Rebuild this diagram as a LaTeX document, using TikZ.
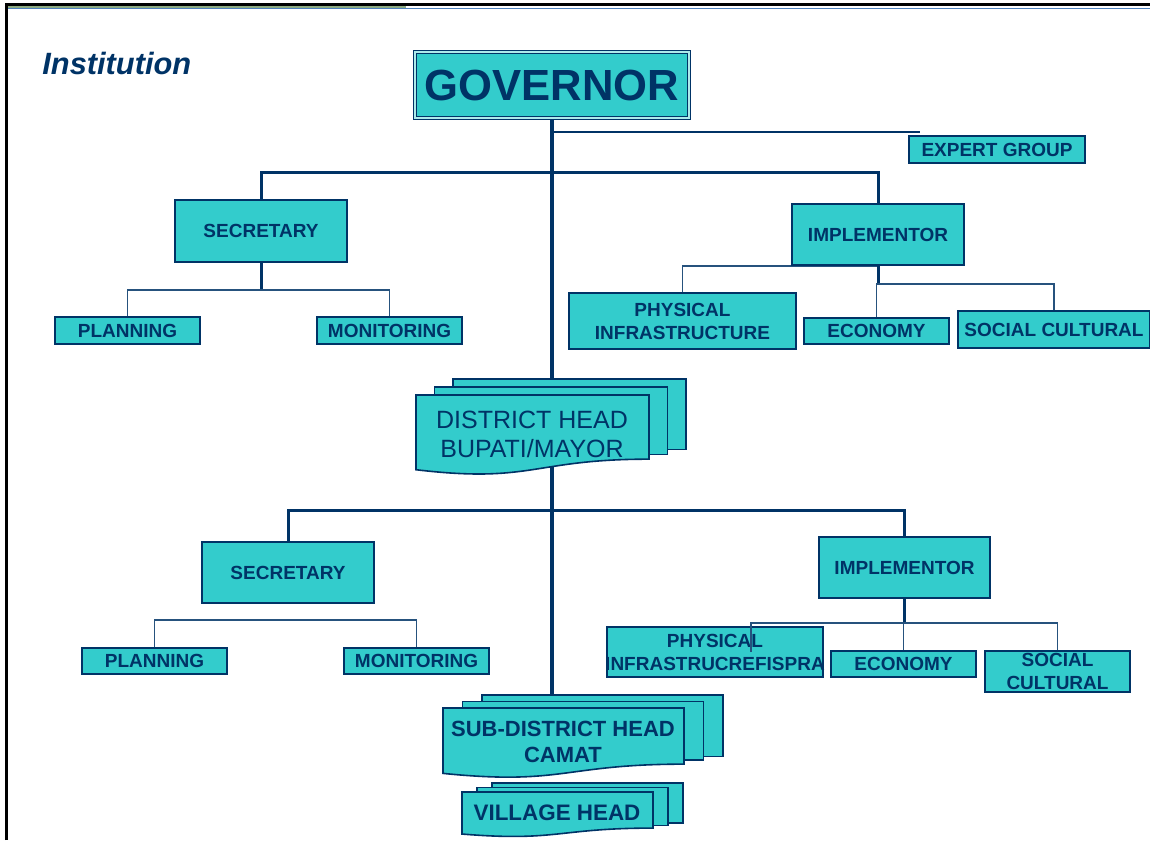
\documentclass[tikz,border=0pt]{standalone}
\usepackage{fontspec}
\setmainfont{Liberation Sans}
\usetikzlibrary{calc,positioning,backgrounds}

\definecolor{govblue}{RGB}{0,51,102}
\definecolor{boxcyan}{RGB}{51,204,204}
\definecolor{rulegreen}{RGB}{140,170,130}
\definecolor{ruleblue}{RGB}{79,129,189}

\tikzset{
	box/.style={draw=govblue, line width=0.8pt, fill=boxcyan, text=govblue, inner sep=0pt, align=center, font=\fontsize{9.5}{11.5}\selectfont\bfseries},
	page/.style={draw=govblue, line width=0.8pt, fill=boxcyan},
	pagetext/.style={text=govblue, inner sep=0pt, align=center},
	trunk/.style={govblue, line width=2pt},
	bar/.style={govblue, line width=1.5pt},
	twig/.style={govblue!85!white, line width=0.75pt},
}

% one sheet with a wavy bottom: x, y (top left), width, height
\newcommand{\docpage}[4]{%
	\filldraw[page] (#1,#2) -- ++(#3,0) -- ++(0,0.802*#4)
		.. controls +(-0.5*#3,0) and +(0.5*#3,0.174*#4) .. (#1,#2+0.934*#4) -- cycle;}
% three stacked sheets: x, y, width, height, dx, dy
\newcommand{\docstack}[6]{%
	\filldraw[page] (#1+2*#5,#2-2*#6) rectangle (#1+2*#5+#3,#2+0.802*#4-1.2*#6);
	\filldraw[page] (#1+#5,#2-#6) rectangle (#1+#5+#3,#2+0.802*#4-0.6*#6);
	\docpage{#1}{#2}{#3}{#4}}

\begin{document}
\begin{tikzpicture}[x=1pt,y=-1pt]
	\useasboundingbox (0,0) rectangle (575,420);
	% frame
	\draw[line width=1.5pt] (3,420) -- (3,2.5) -- (575,2.5);
	\draw[rulegreen, line width=0.9pt] (4,3.4) -- (203,3.4);
	\draw[ruleblue, line width=0.7pt] (4,4.4) -- (575,4.4);

	\node[anchor=base west, inner sep=0pt, text=govblue, font=\fontsize{15.4}{18}\selectfont\bfseries\itshape] (title) at (21,37.5) {Institution};

	\node[box, minimum width=137pt, minimum height=33pt, line width=0.6pt, double=boxcyan!40!white, double distance=0.8pt, font=\fontsize{21.8}{24}\selectfont\bfseries] (gov) at (276,42.5) {GOVERNOR};
	\node[box, minimum width=88pt, minimum height=13.5pt] (expert) at (498.5,74.75) {EXPERT GROUP};

	% province
	\node[box, minimum width=86pt, minimum height=31pt] (sec1) at (130.5,115.5) {SECRETARY};
	\node[box, minimum width=86pt, minimum height=30.5pt] (imp1) at (439,117.25) {IMPLEMENTOR};
	\node[box, minimum width=72.5pt, minimum height=13.5pt] (plan1) at (63.75,165.25) {PLANNING};
	\node[box, minimum width=72.5pt, minimum height=13.5pt] (mon1) at (194.75,165.25) {MONITORING};
	\node[box, minimum width=113.5pt, minimum height=28pt] (phys1) at (341.25,160.5) {PHYSICAL\\INFRASTRUCTURE};
	\node[box, minimum width=72.5pt, minimum height=13pt] (eco1) at (438.25,165.5) {ECONOMY};
	\node[box, minimum width=96pt, minimum height=18.5pt] (soc1) at (527,164.75) {SOCIAL CULTURAL};

	% district
	\docstack{208}{197.5}{116.5}{40}{9.25}{4}
	\node[pagetext, font=\fontsize{12.5}{14.5}\selectfont] (dist) at (266,217) {DISTRICT HEAD\\BUPATI/MAYOR};

	\node[box, minimum width=86pt, minimum height=30.5pt] (sec2) at (144,286.25) {SECRETARY};
	\node[box, minimum width=85.5pt, minimum height=30.5pt] (imp2) at (452.25,283.75) {IMPLEMENTOR};
	\node[box, minimum width=72.5pt, minimum height=13pt] (plan2) at (77.25,330.5) {PLANNING};
	\node[box, minimum width=72.5pt, minimum height=13pt] (mon2) at (208.25,330.5) {MONITORING};
	\node[box, minimum width=108pt, minimum height=25pt] (phys2) at (357.5,326) {PHYSICAL\\\makebox[0pt]{INFRASTRUCREFISPRA}};
	\node[box, minimum width=72.5pt, minimum height=13pt] (eco2) at (451.75,332) {ECONOMY};
	\node[box, minimum width=72.5pt, minimum height=20.5pt] (soc2) at (528.75,335.75) {SOCIAL\\CULTURAL};

	% sub-district and village
	\docstack{221.5}{354}{120.5}{35}{9.75}{3.25}
	\node[pagetext, font=\fontsize{11}{13}\selectfont\bfseries] (sub) at (281.5,371) {SUB-DISTRICT HEAD\\CAMAT};
	\docstack{231}{396}{95.5}{22.5}{7.5}{2.25}
	\node[pagetext, font=\fontsize{11.2}{13}\selectfont\bfseries] (vil) at (278.5,406.5) {VILLAGE HEAD};

	% connectors
	\coordinate (exp) at (460,66);
	\coordinate (top1) at (276,86);
	\coordinate (top2) at (276,255);
	\coordinate (s1) at (130.5,145);
	\coordinate (i1) at (439,142);
	\coordinate (s2) at (144,310);
	\coordinate (i2) at (452.25,311.5);
	\coordinate (p2) at (375.5,326);

	\begin{pgfonlayer}{background}
		\draw[trunk] (gov.south) -- (gov.south |- sub.north);
		\draw[bar, line width=1pt] (gov.south |- exp) -- (exp);
		\draw[bar] (sec1.north) |- (top1) -| (imp1.north);
		\draw[bar] (sec2.north) |- (top2) -| (imp2.north);
		\draw[bar] (sec1.south) -- (s1);
		\draw[twig] (plan1.north) |- (s1) -| (mon1.north);
		\draw[twig] (phys1.north) |- (imp1.south);
		\draw[bar] (imp1.south) -- (i1);
		\draw[twig] (eco1.north) |- (i1) -| (soc1.north);
		\draw[twig] (plan2.north) |- (s2) -| (mon2.north);
		\draw[bar] (imp2.south) -- (i2);
		\draw[twig] (eco2.north) |- (i2) -| (soc2.north);
	\end{pgfonlayer}
	\draw[twig] (p2) |- (i2);
\end{tikzpicture}
\end{document}
